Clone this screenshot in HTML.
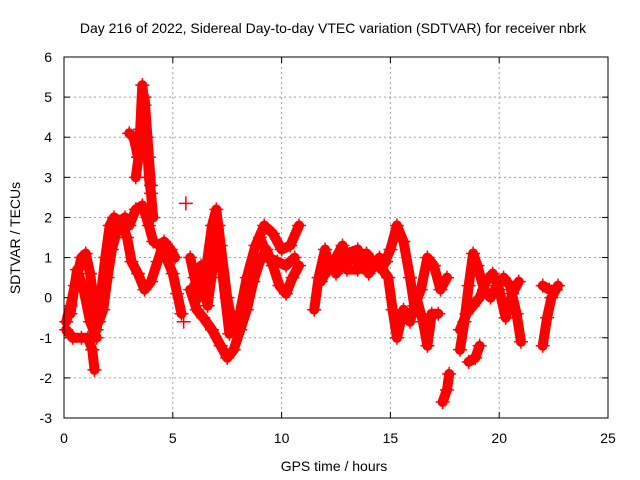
<!DOCTYPE html>
<html><head><meta charset="utf-8"><style>
body{margin:0;background:#fff;}
svg{display:block;font-family:"Liberation Sans",sans-serif;}
</style></head><body>
<svg id="chart" width="640" height="480">
<rect width="640" height="480" fill="#fff"/>
<text x="333" y="33" font-size="14" text-anchor="middle">Day 216 of 2022, Sidereal Day-to-day VTEC variation (SDTVAR) for receiver nbrk</text>
<text x="334" y="471" font-size="14" text-anchor="middle">GPS time / hours</text>
<text transform="translate(20,238) rotate(-90)" font-size="14" text-anchor="middle">SDTVAR / TECUs</text>
<g id="grid"></g><g id="ticks"></g><g id="marks"></g>
<rect x="64" y="57" width="544" height="361" fill="none" stroke="#000" stroke-width="1"/>
</svg>
<script>
const xTicks=[0,5,10,15,20,25];
const yTicks=[-3,-2,-1,0,1,2,3,4,5,6];
const traceA1=[[0.1,-0.6],[0.3,-0.2],[0.5,0.3],[0.8,1.0],[1.0,1.1],[1.2,0.6],[1.4,-0.2],[1.6,-0.6],[1.8,-0.3],[2.0,0.5],[2.2,1.2],[2.5,1.8],[2.8,2.0],[3.0,1.8],[3.3,2.2],[3.6,2.3],[3.9,1.8],[4.1,1.4],[4.4,1.3],[4.7,1.0],[5.0,0.6],[5.2,0.1],[5.4,-0.4]];
const traceA2=[[0.1,-0.8],[0.4,-1.0],[0.8,-1.0],[1.1,-1.0],[1.3,-1.3],[1.4,-1.8]];
const traceA3=[[1.5,-0.8],[1.7,0.1],[1.9,1.0],[2.1,1.8],[2.3,2.0],[2.6,1.9],[2.9,1.5],[3.1,0.9],[3.4,0.6],[3.7,0.2],[4.0,0.4],[4.3,0.9],[4.6,1.4],[4.9,1.2],[5.1,1.0]];
const traceA4=[[0.3,-0.4],[0.6,0.7],[0.9,0.2],[1.2,-0.6],[1.5,-1.0]];
const spike=[[3.0,4.1],[3.2,4.0],[3.4,3.5],[3.5,4.2],[3.6,5.3],[3.7,4.8],[3.8,4.0],[3.9,3.0],[4.0,2.6],[4.1,2.0]];
const spike2=[[3.3,3.0],[3.5,3.8],[3.7,5.0],[3.9,3.5],[4.0,2.8]];
const strayHigh=[[5.6,2.35]];
const strayLow=[[5.5,-0.6]];
const traceB1=[[5.8,1.0],[6.0,0.5],[6.2,0.0],[6.5,0.6],[6.8,1.8],[7.0,2.2],[7.2,1.3],[7.5,0.0],[7.8,-0.8],[8.0,-0.6],[8.4,0.5],[8.8,1.3],[9.2,1.8],[9.6,1.6],[10.0,1.2],[10.4,1.3],[10.8,1.8]];
const traceB2=[[5.8,0.2],[6.1,-0.3],[6.4,-0.5],[6.8,-0.8],[7.2,-1.2],[7.5,-1.5],[7.8,-1.3],[8.1,-0.8],[8.4,-0.3],[8.7,0.4],[9.0,0.9],[9.3,1.2],[9.6,0.8],[9.9,0.3],[10.2,0.1],[10.5,0.5],[10.8,0.8]];
const traceB3=[[6.3,0.8],[6.6,-0.2],[6.9,1.0],[7.1,1.8],[7.3,0.5],[7.6,-0.9]];
const traceB4=[[9.0,1.5],[9.4,1.0],[9.8,0.9],[10.2,0.8],[10.6,1.0]];
const traceC1=[[11.5,-0.3],[11.7,0.5],[12.0,1.2],[12.2,0.7],[12.5,1.0],[12.8,1.3],[13.0,0.9],[13.3,1.0],[13.6,0.8],[13.9,1.1],[14.2,0.9],[14.6,0.7],[15.0,1.2],[15.3,1.8],[15.6,1.4],[15.9,0.5],[16.1,-0.2],[16.4,0.2],[16.7,1.0],[17.0,0.8],[17.3,0.2],[17.6,0.5]];
const traceC2=[[11.8,0.4],[12.2,0.8],[12.6,0.9],[13.0,0.7],[13.5,0.7],[14.0,0.8],[14.5,0.8],[14.9,0.5],[15.1,-0.3],[15.3,-1.0],[15.6,-0.3],[15.9,-0.6],[16.2,0.0],[16.5,-0.6],[16.7,-1.2],[16.9,-0.4],[17.2,-0.4]];
const traceC3=[[12.0,1.0],[12.5,0.6],[13.0,1.1],[13.5,1.2],[14.0,0.6],[14.5,1.0],[14.8,0.9]];
const traceLow=[[17.4,-2.6],[17.6,-2.3],[17.7,-1.9]];
const traceD1=[[18.2,-1.3],[18.4,-0.6],[18.6,0.3],[18.8,1.1],[19.0,0.8],[19.3,0.2],[19.6,0.0],[19.9,0.3],[20.2,0.5],[20.5,0.3],[20.8,-0.4],[21.0,-1.1]];
const traceD2=[[18.2,-0.8],[18.5,-0.4],[18.8,-0.2],[19.1,0.0],[19.4,0.4],[19.7,0.6],[20.0,0.2],[20.3,-0.5],[20.6,0.1],[20.9,0.4]];
const traceD3=[[18.6,-1.6],[18.9,-1.5],[19.1,-1.2]];
const traceE1=[[22.0,-1.2],[22.2,-0.5],[22.4,0.0],[22.6,0.2],[22.7,0.3]];
const traceE2=[[22.0,0.3],[22.3,0.2],[22.6,0.2]];
const traces=[traceA1,traceA2,traceA3,traceA4,spike,spike2,strayHigh,strayLow,traceB1,traceB2,traceB3,traceB4,traceC1,traceC2,traceC3,traceLow,traceD1,traceD2,traceD3,traceE1,traceE2];

const NS="http://www.w3.org/2000/svg";
const X=t=>64+t*(544/25);
const Y=v=>418-(v+3)*(361/9);
function mk(tag,attrs,parent){const e=document.createElementNS(NS,tag);for(const k in attrs)e.setAttribute(k,attrs[k]);parent.appendChild(e);return e;}
const grid=document.getElementById('grid'),ticks=document.getElementById('ticks'),marks=document.getElementById('marks');
xTicks.forEach(t=>{
  const x=X(t);
  if(t>0&&t<25){const g=mk('line',{x1:x,x2:x,y1:57,y2:418,stroke:'#a0a0a0','stroke-dasharray':'2,3'},grid);
  
  }
  mk('line',{x1:x,x2:x,y1:418,y2:412,stroke:'#000'},ticks);mk('line',{x1:x,x2:x,y1:57,y2:63,stroke:'#000'},ticks);
  const l=mk('text',{x:x,y:443,'font-size':14,'text-anchor':'middle'},ticks);l.textContent=t;
  
  
});
yTicks.forEach(v=>{
  const y=Y(v);
  if(v>-3&&v<6){const g=mk('line',{x1:64,x2:608,y1:y,y2:y,stroke:'#a0a0a0','stroke-dasharray':'2,3'},grid);
  
  }
  mk('line',{x1:64,x2:70,y1:y,y2:y,stroke:'#000'},ticks);mk('line',{x1:608,x2:602,y1:y,y2:y,stroke:'#000'},ticks);
  const l=mk('text',{x:52,y:y+5,'font-size':14,'text-anchor':'end'},ticks);l.textContent=v;
  
  
});
traces.forEach(tr=>{
  const d=tr.map((p,i)=>(i?'L':'M')+X(p[0]).toFixed(1)+','+Y(p[1]).toFixed(1)).join('');
  const path=mk('path',{d:d,fill:'none',stroke:'#ff0000','stroke-width':10,'stroke-linejoin':'round','stroke-linecap':'round'},marks);
  
  
  tr.forEach(p=>{
    const x=X(p[0]),y=Y(p[1]);
    const m=mk('path',{d:`M${x-7},${y}h14M${x},${y-7}v14`,stroke:'#ff0000','stroke-width':1.5},marks);
    
    
  });
});
</script>
</body></html>
